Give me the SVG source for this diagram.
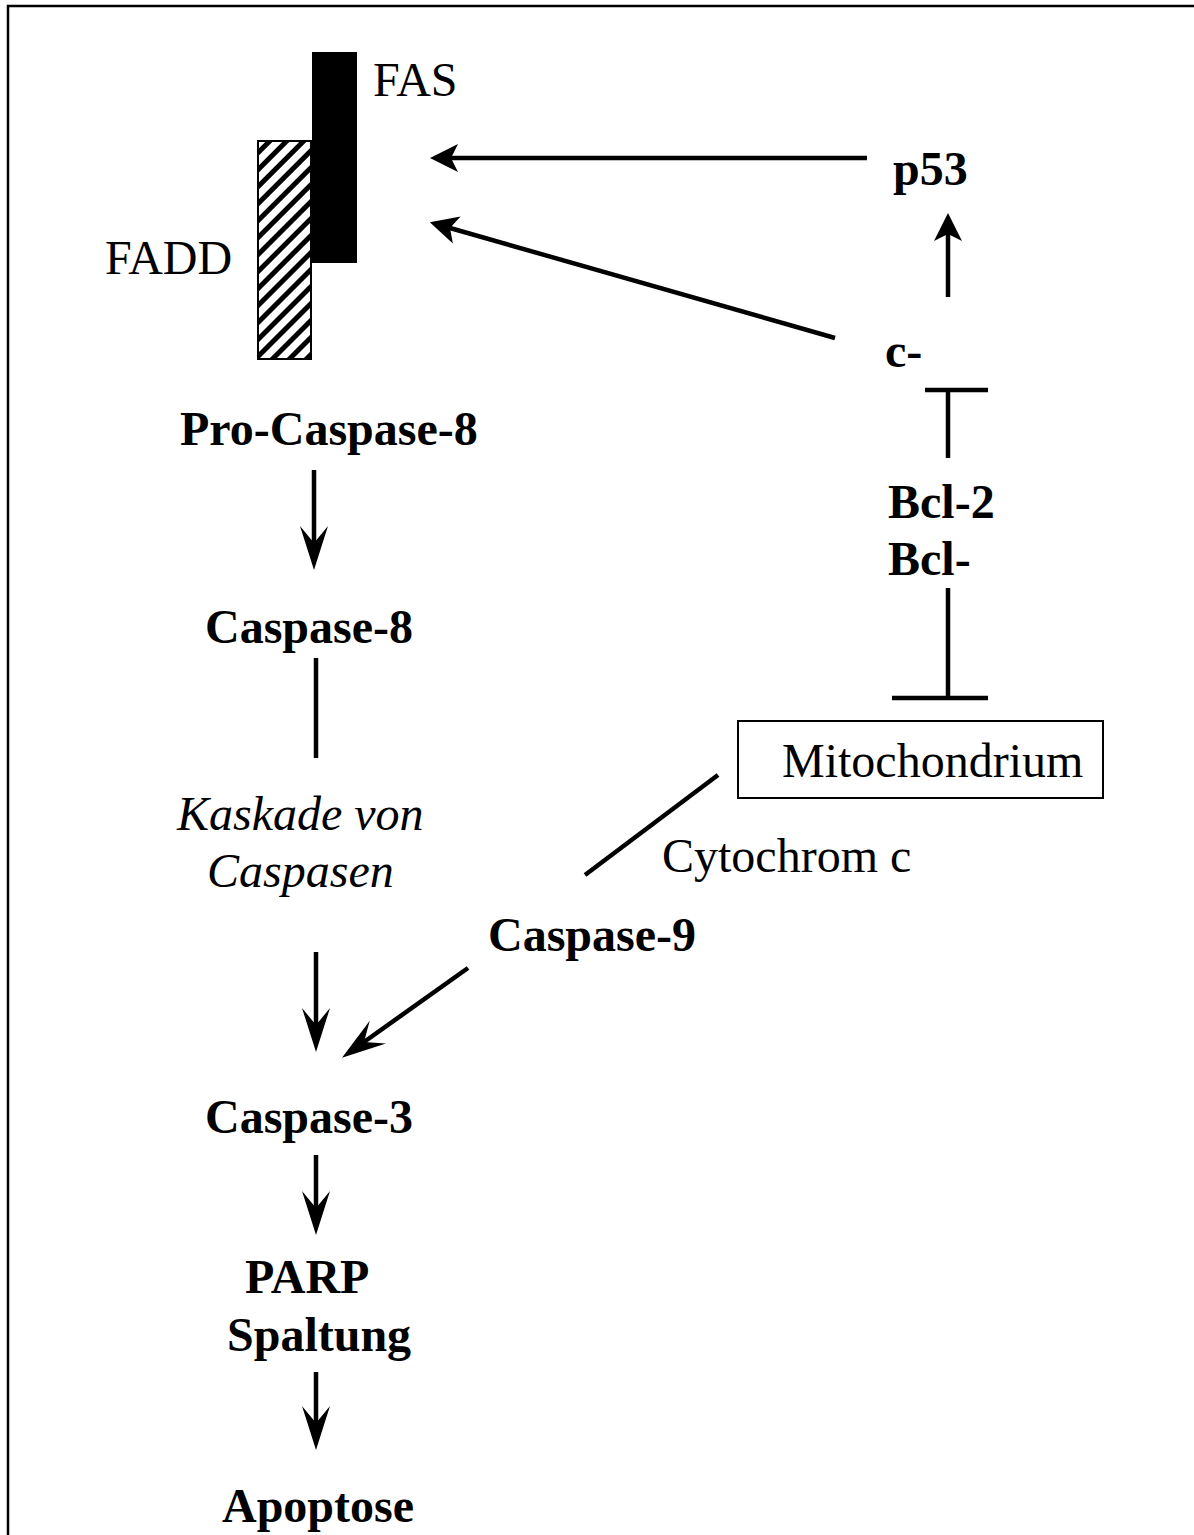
<svg xmlns="http://www.w3.org/2000/svg" width="1194" height="1535" viewBox="0 0 1194 1535">
<style>
.t{font-family:"Liberation Serif","Times New Roman",serif;font-size:48px;fill:#000}
.b{font-weight:bold}
.i{font-style:italic}
.ln{stroke:#000;stroke-width:4.5;fill:none}
</style>
<defs>
<marker id="ah" markerUnits="userSpaceOnUse" markerWidth="60" markerHeight="40" viewBox="-30 -20 60 40" refX="0" refY="0" orient="auto" overflow="visible">
<path d="M21,0 L-7,-14 L0,0 L-7,14 Z" fill="#000"/>
</marker>
<marker id="al" markerUnits="userSpaceOnUse" markerWidth="80" markerHeight="40" viewBox="-40 -20 80 40" refX="0" refY="0" orient="auto" overflow="visible">
<path d="M27,0 L-17,-14 L0,0 L-17,14 Z" fill="#000"/>
</marker>
<pattern id="hatch" patternUnits="userSpaceOnUse" width="12" height="12" patternTransform="rotate(45)">
<rect width="12" height="12" fill="#fff"/>
<rect x="0" y="0" width="5" height="12" fill="#000"/>
</pattern>
</defs>
<rect width="1194" height="1535" fill="#fff"/>
<path d="M8,1540 L8,6 L1200,6" fill="none" stroke="#000" stroke-width="2.5"/>

<g id="connectors">
<line class="ln" x1="867" y1="158" x2="451" y2="158" marker-end="url(#ah)"/>
<line class="ln" x1="835" y1="338" x2="450" y2="228" marker-end="url(#ah)"/>
<line class="ln" x1="948" y1="297" x2="948" y2="234" marker-end="url(#ah)"/>
<line class="ln" x1="925" y1="390" x2="988" y2="390"/>
<line class="ln" x1="948" y1="390" x2="948" y2="458"/>
<line class="ln" x1="948" y1="588" x2="948" y2="698"/>
<line class="ln" x1="892" y1="698" x2="988" y2="698"/>
<line class="ln" x1="585" y1="875" x2="718" y2="775"/>
<line class="ln" x1="314" y1="470" x2="314" y2="543" marker-end="url(#al)"/>
<line class="ln" x1="316" y1="658" x2="316" y2="758"/>
<line class="ln" x1="316" y1="952" x2="316" y2="1025" marker-end="url(#al)"/>
<line class="ln" x1="468" y1="968" x2="364" y2="1042" marker-end="url(#al)"/>
<line class="ln" x1="316" y1="1155" x2="316" y2="1208" marker-end="url(#al)"/>
<line class="ln" x1="316" y1="1372" x2="316" y2="1423" marker-end="url(#al)"/>
</g>

<g id="fadd">
<rect x="258" y="141" width="53" height="218" fill="url(#hatch)" stroke="#000" stroke-width="2"/>
<text class="t" x="105" y="274">FADD</text>
</g>
<g id="fas">
<rect x="312" y="52" width="45" height="211" fill="#000"/>
<text class="t" x="373" y="96">FAS</text>
</g>
<g id="p53"><text class="t b" x="893" y="185">p53</text></g>
<g id="c"><text class="t b" x="885" y="367">c-</text></g>
<g id="bcl">
<text class="t b" x="888" y="518">Bcl-2</text>
<text class="t b" x="888" y="575">Bcl-</text>
</g>
<g id="mitochondrium">
<rect x="738" y="721" width="365" height="77" fill="#fff" stroke="#000" stroke-width="2"/>
<text class="t" x="782" y="777">Mitochondrium</text>
</g>
<g id="cytochrom"><text class="t" x="662" y="872">Cytochrom c</text></g>
<g id="caspase9"><text class="t b" x="488" y="951">Caspase-9</text></g>
<g id="procaspase8"><text class="t b" x="180" y="445">Pro-Caspase-8</text></g>
<g id="caspase8"><text class="t b" x="205" y="643">Caspase-8</text></g>
<g id="kaskade">
<text class="t i" x="177" y="830">Kaskade von</text>
<text class="t i" x="207" y="887">Caspasen</text>
</g>
<g id="caspase3"><text class="t b" x="205" y="1133">Caspase-3</text></g>
<g id="parp">
<text class="t b" x="245" y="1293">PARP</text>
<text class="t b" x="227" y="1351">Spaltung</text>
</g>
<g id="apoptose"><text class="t b" x="222" y="1522">Apoptose</text></g>
</svg>
